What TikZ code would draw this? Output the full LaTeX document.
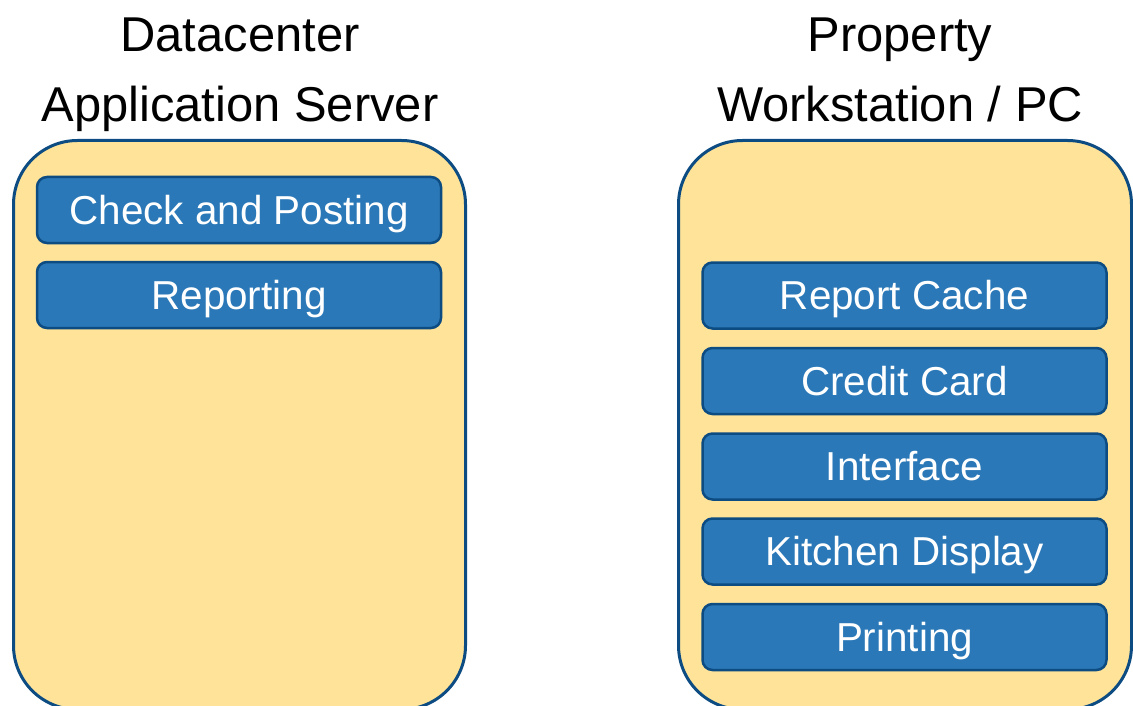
\documentclass[tikz,border=0pt]{standalone}
\usepackage{fontspec}
\setmainfont{Liberation Sans}
\definecolor{paneyellow}{HTML}{FEE398}
\definecolor{paneborder}{HTML}{0D4C82}
\definecolor{boxblue}{HTML}{2A78B7}
\tikzset{
  pane/.style={draw=paneborder, line width=3pt, fill=paneyellow, rounded corners=64pt,
    anchor=north west, minimum width=#1, minimum height=569pt, inner sep=0pt},
  module/.style={draw=paneborder, line width=2.5pt, fill=boxblue, rounded corners=10pt,
    text=white, font=\fontsize{40.4}{48}\selectfont, text height=28.9pt, text depth=0pt,
    minimum height=#1, inner sep=0pt},
  module/.default=66pt,
  title/.style={font=\fontsize{48.9}{58}\selectfont, anchor=base, text=black, inner sep=0pt}
}
\begin{document}
\begin{tikzpicture}[x=1pt,y=1pt]
\useasboundingbox (0,0) rectangle (1133,-706);
\clip (0,0) rectangle (1133,-706);
% titles
\node[title] (t1) at (240,-52) {Datacenter};
\node[title] (t2) at (240,-122) {Application Server};
\node[title] (t3) at (900,-52) {Property};
\node[title] (t4) at (900,-122) {Workstation / PC};
% containers
\node[pane=452pt] (left) at (12,-139) {};
\node[pane=453pt] (right) at (677,-139) {};
% left modules
\node[module, minimum width=404pt] (cp) at (239,-210) {Check and Posting};
\node[module, minimum width=404pt] (rep) at (239,-295) {Reporting};
% right modules
\node[module, minimum width=404pt] (rc) at (904.5,-295.5) {Report Cache};
\node[module, minimum width=404pt] (cc) at (904.5,-381) {Credit Card};
\node[module, minimum width=404pt] (if) at (904.5,-466.5) {Interface};
\node[module, minimum width=404pt] (kd) at (904.5,-551.5) {Kitchen Display};
\node[module, minimum width=404pt] (pr) at (904.5,-637) {Printing};
\end{tikzpicture}
\end{document}
